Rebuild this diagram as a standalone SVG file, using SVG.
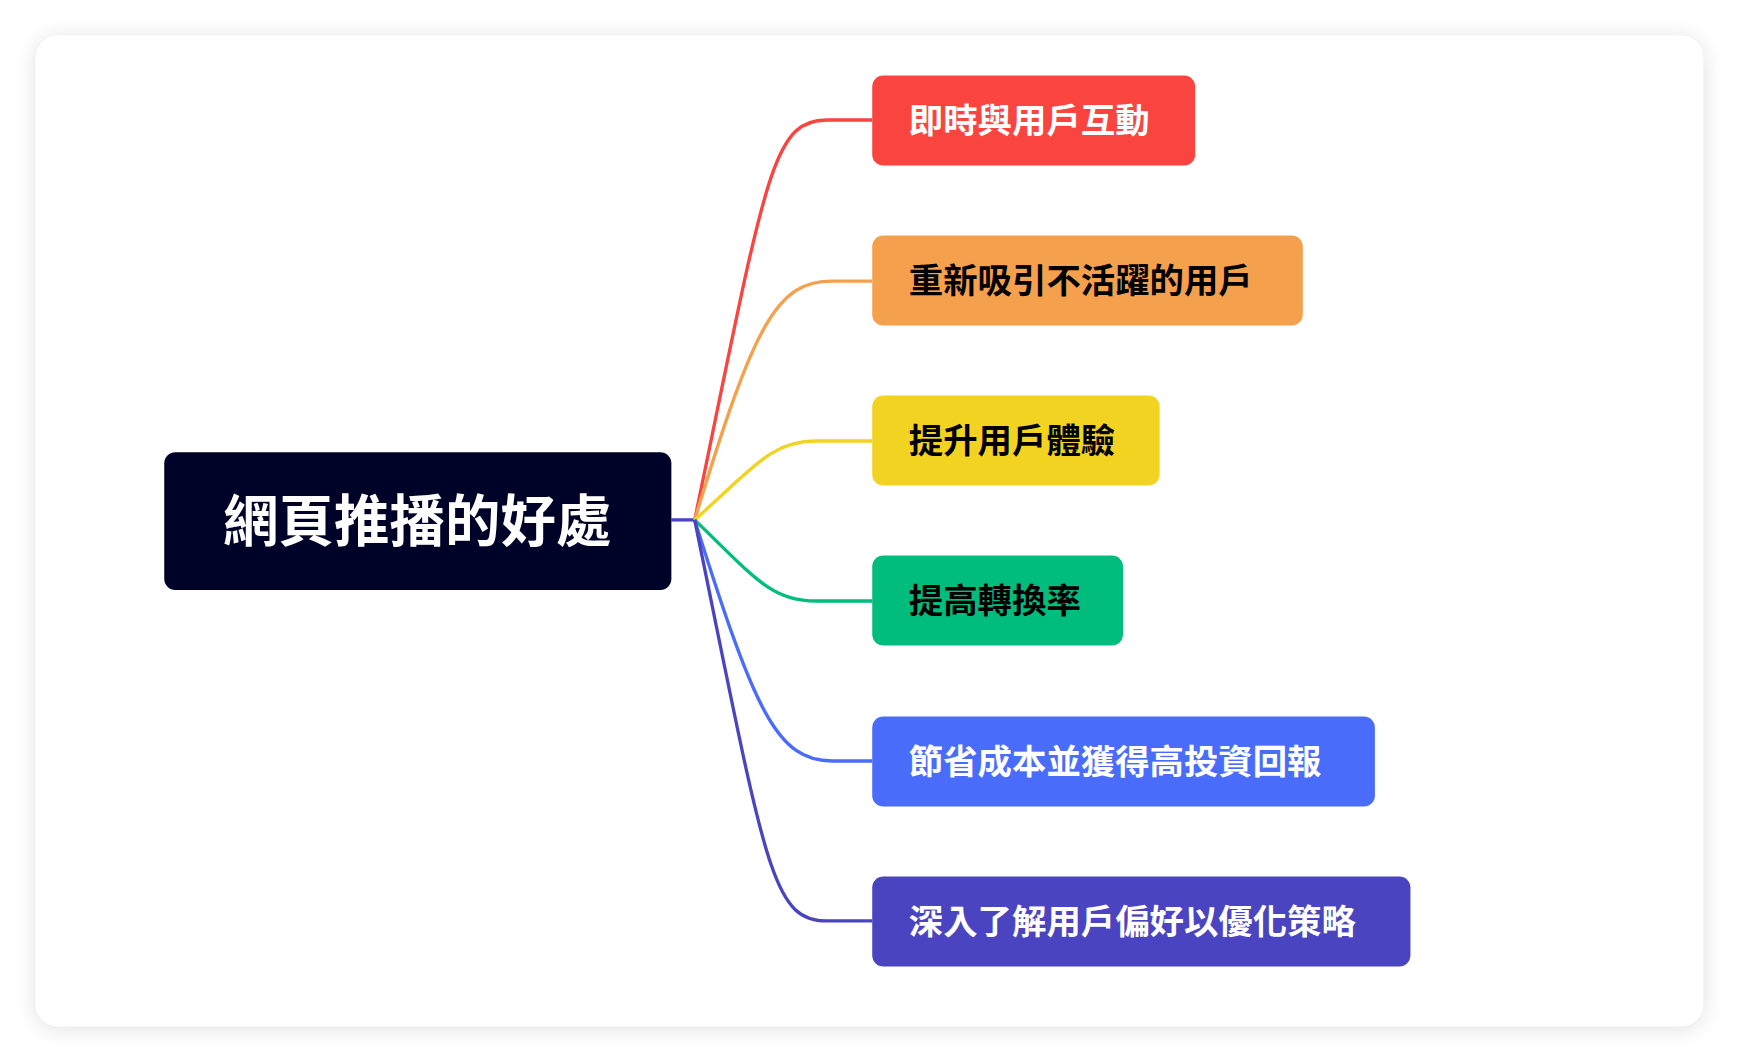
<svg xmlns="http://www.w3.org/2000/svg" width="1740" height="1062" viewBox="0 0 1740 1062">
<defs>
<filter id="sh" x="-5%" y="-5%" width="110%" height="110%"><feGaussianBlur stdDeviation="10"/></filter>
<style>
.t{font-family:"Noto Sans CJK TC","Noto Sans CJK SC",sans-serif;font-weight:700;font-size:31px}
.c{fill:none;stroke-width:3}
</style>
</defs>
<rect width="1740" height="1062" fill="#fff"/>
<g transform="scale(1.1097 1.1109)">
<rect x="32" y="34" width="1503" height="892" rx="20" fill="#000" opacity="0.12" filter="url(#sh)"/>
<rect x="32" y="32" width="1503" height="892" rx="20" fill="#fff"/>
<g id="connectors">
<path class="c" stroke="#4b44c0" d="M605 468H626"/>
<path class="c" stroke="#f94440" d="M626 468C690 160 695 108 745 108H786"/>
<path class="c" stroke="#f5a04c" d="M626 468C680 290 700 253 750 253H786"/>
<path class="c" stroke="#f2d321" d="M626 468C680 420 695 397 735 397H786"/>
<path class="c" stroke="#00bd7e" d="M626 468C680 520 695 541 735 541H786"/>
<path class="c" stroke="#4a6cfa" d="M626 468C680 640 700 685 750 685H786"/>
<path class="c" stroke="#4b44c0" d="M626 468C690 780 695 829 745 829H786"/>
</g>
<g id="root"><rect x="148" y="407" width="457" height="124" rx="10" fill="#000328"/><text x="376" y="487" text-anchor="middle" fill="#fff" class="t" style="font-size:50px">網頁推播的好處</text></g>
<g id="n1"><rect x="786" y="68" width="291" height="81" rx="10" fill="#f94440"/><text x="819" y="120" fill="#fff" class="t">即時與用戶互動</text></g>
<g id="n2"><rect x="786" y="212" width="388" height="81" rx="10" fill="#f5a04c"/><text x="819" y="264" fill="#000" class="t">重新吸引不活躍的用戶</text></g>
<g id="n3"><rect x="786" y="356" width="259" height="81" rx="10" fill="#f2d321"/><text x="819" y="408" fill="#000" class="t">提升用戶體驗</text></g>
<g id="n4"><rect x="786" y="500" width="226" height="81" rx="10" fill="#00bd7e"/><text x="819" y="552" fill="#000" class="t">提高轉換率</text></g>
<g id="n5"><rect x="786" y="645" width="453" height="81" rx="10" fill="#4a6cfa"/><text x="819" y="697" fill="#fff" class="t">節省成本並獲得高投資回報</text></g>
<g id="n6"><rect x="786" y="789" width="485" height="81" rx="10" fill="#4b44c0"/><text x="819" y="841" fill="#fff" class="t">深入了解用戶偏好以優化策略</text></g>
</g>
</svg>
